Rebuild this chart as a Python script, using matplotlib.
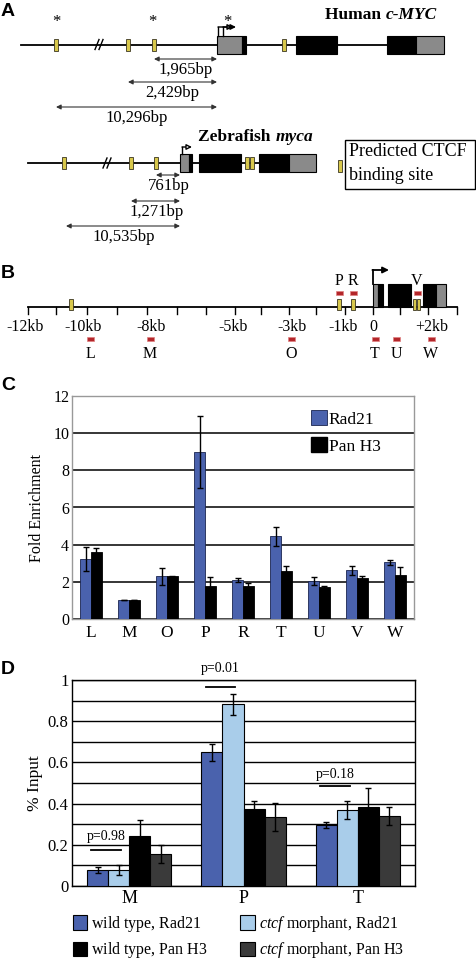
import matplotlib
matplotlib.use('Agg')
import matplotlib.pyplot as plt
from matplotlib.patches import Rectangle, Patch
import numpy as np

plt.rcParams['font.family'] = ['Liberation Serif', 'DejaVu Serif']
plt.rcParams['mathtext.fontset'] = 'custom'
plt.rcParams['mathtext.rm'] = 'Liberation Serif'
plt.rcParams['mathtext.it'] = 'Liberation Serif:italic'
plt.rcParams['mathtext.bf'] = 'Liberation Serif:bold'

# ---------------- Panel C data ----------------
c_categories = ['L', 'M', 'O', 'P', 'R', 'T', 'U', 'V', 'W']
c_rad21 = [3.22, 1.0, 2.29, 9.0, 2.11, 4.44, 2.03, 2.62, 3.05]
c_rad21_err = [0.65, 0.0, 0.47, 1.93, 0.10, 0.52, 0.21, 0.25, 0.12]
c_panh3 = [3.58, 1.0, 2.29, 1.79, 1.76, 2.56, 1.74, 2.19, 2.35]
c_panh3_err = [0.22, 0.0, 0.05, 0.47, 0.20, 0.27, 0.05, 0.12, 0.43]
c_yticks = [0, 2, 4, 6, 8, 10, 12]

# ---------------- Panel D data ----------------
d_categories = ['M', 'P', 'T']
d_wt_rad21 = [0.076, 0.649, 0.296]
d_wt_rad21_err = [0.015, 0.040, 0.016]
d_ct_rad21 = [0.079, 0.882, 0.369]
d_ct_rad21_err = [0.025, 0.050, 0.045]
d_wt_h3 = [0.243, 0.374, 0.383]
d_wt_h3_err = [0.075, 0.040, 0.094]
d_ct_h3 = [0.157, 0.335, 0.340]
d_ct_h3_err = [0.043, 0.070, 0.042]
d_pvalues = ['p=0.98', 'p=0.01', 'p=0.18']
d_pline_y = [0.176, 0.964, 0.485]
d_ptext_y = [0.24, 1.055, 0.54]
d_ytick_labels = ['0', '0.2', '0.4', '0.6', '0.8', '1']

# ---------------- Panel A schematic ----------------
human_ctcf_x = [56, 128, 154, 284]
human_star_x = [56, 152, 227]
human_exons = [(217, 242, 'gray'), (242, 246, 'black'), (296, 337, 'black'),
               (387, 416, 'black'), (416, 444, 'gray')]
human_dist_labels = ['1,965bp', '2,429bp', '10,296bp']
human_dist_from = [154, 128, 56]
human_dist_y = [59, 82, 107]

zf_ctcf_x = [64, 131, 156, 247, 252]
zf_exons = [(180, 189, 'gray'), (189, 192, 'black'), (199, 241, 'black'),
            (259, 289, 'black'), (289, 316, 'gray')]
zf_dist_labels = ['761bp', '1,271bp', '10,535bp']
zf_dist_from = [156, 131, 66]
zf_dist_y = [175, 201, 226]

# ---------------- Panel B schematic ----------------
b_tick_px = [28, 56, 87, 117, 147, 177, 206, 235, 261, 289, 316, 345, 373, 400, 428, 457]
b_tick_labels = ['-12kb', '-10kb', '-8kb', '-5kb', '-3kb', '-1kb', '0', '+2kb']
b_label_px = [25, 83, 151, 233, 292, 343, 373, 432]
b_ctcf_x = [71, 339, 353, 414.5, 418.5]
b_top_probes = ['P', 'R', 'V']
b_top_probe_x = [339, 353, 417]
b_bottom_probes = ['L', 'M', 'O', 'T', 'U', 'W']
b_bottom_probe_x = [90, 150, 291, 375, 396, 431]
b_exons = [(373, 378, 'gray'), (378, 383, 'black'), (388, 411, 'black'),
           (423, 436, 'black'), (436, 446, 'gray')]

BLUE = '#4a62ad'
LBLUE = '#a9cdea'
DGRAY = '#3a3a3a'
GRAYEX = '#8a8a8a'
YEL = '#d8c84c'
RED = '#b3262a'

fig = plt.figure(figsize=(4.76, 9.59), dpi=100)
ax0 = fig.add_axes([0, 0, 1, 1])
ax0.set_xlim(0, 476)
ax0.set_ylim(959, 0)
ax0.axis('off')


def exon(x0, x1, yc, h, color):
    fc = GRAYEX if color == 'gray' else 'black'
    ax0.add_patch(Rectangle((x0, yc - h / 2), x1 - x0, h, fc=fc, ec='black', lw=0.8, zorder=3))


def ctcf(x, yc, h=12, w=4):
    ax0.add_patch(Rectangle((x - w / 2, yc - h / 2), w, h, fc=YEL, ec='#3a3520', lw=0.6, zorder=4))


def probe(x, yc):
    ax0.add_patch(Rectangle((x - 3.5, yc - 2), 7, 4, fc=RED, ec='#e08080', lw=0.5, zorder=4))


def dbl_arrow(x0, x1, y):
    ax0.annotate('', xy=(x0, y), xytext=(x1, y),
                 arrowprops=dict(arrowstyle='<|-|>', color='#333333', lw=0.8,
                                 mutation_scale=7, shrinkA=0, shrinkB=0))


def tss(x, ybot, ytop, xend, filled=True):
    ax0.plot([x, x], [ybot, ytop], color='black', lw=1.0, zorder=5)
    ax0.annotate('', xy=(xend, ytop), xytext=(x, ytop),
                 arrowprops=dict(arrowstyle='-|>', color='black', lw=1.0,
                                 fc='black' if filled else 'white',
                                 mutation_scale=8, shrinkA=0, shrinkB=0), zorder=5)


def breakmark(x, yc):
    for dx in (-2, 2):
        ax0.plot([x + dx - 2, x + dx + 2], [yc + 5, yc - 5], color='black', lw=1.0, zorder=5)


# Panel letters
for letter, y in [('A', 11), ('B', 273), ('C', 385), ('D', 670)]:
    ax0.text(1, y, letter, fontsize=14, fontweight='bold', family=['Liberation Sans', 'DejaVu Sans'],
             ha='left', va='center')

# ----- Human c-MYC -----
hy = 44.5
ax0.plot([21, 444], [hy, hy], color='black', lw=1.3, zorder=1)
breakmark(99, hy)
for x in human_ctcf_x:
    ctcf(x, hy)
for x in human_star_x:
    ax0.text(x, 22, '*', fontsize=12, ha='center', va='center')
for x0, x1, c in human_exons:
    exon(x0, x1, 45, 18, c)
tss(218, 36, 27, 233, filled=False)
tss(223, 36, 27, 236, filled=True)
for lab, xf, y in zip(human_dist_labels, human_dist_from, human_dist_y):
    dbl_arrow(xf, 217, y)
    ax0.text((xf + 217) / 2, y + 11, lab, fontsize=12, ha='center', va='center')
t1 = ax0.text(437, 15, 'c-MYC', fontsize=12.5, fontweight='bold', style='italic', ha='right', va='center')
ax0.annotate('Human ', xy=(0, 0.5), xycoords=t1, fontsize=12.5, fontweight='bold', ha='right', va='center')

# ----- Zebrafish myca -----
zy = 163
ax0.plot([28, 316], [zy, zy], color='black', lw=1.3, zorder=1)
breakmark(107, zy)
for x in zf_ctcf_x:
    ctcf(x, zy)
for x0, x1, c in zf_exons:
    exon(x0, x1, zy, 18, c)
tss(182, 154, 147, 192, filled=False)
for lab, xf, y in zip(zf_dist_labels, zf_dist_from, zf_dist_y):
    dbl_arrow(xf, 180, y)
    ax0.text((xf + 180) / 2 + 1, y + 11, lab, fontsize=12, ha='center', va='center')
t2 = ax0.text(313, 137, 'myca', fontsize=12.5, fontweight='bold', style='italic', ha='right', va='center')
ax0.annotate('Zebrafish ', xy=(0, 0.5), xycoords=t2, fontsize=12.5, fontweight='bold', ha='right', va='center')

# legend box
ax0.add_patch(Rectangle((345, 140), 130, 49, fc='white', ec='black', lw=1.0, zorder=2))
ctcf(340, 166)
ax0.text(349, 152, 'Predicted CTCF', fontsize=13, ha='left', va='center', zorder=3)
ax0.text(349, 176, 'binding site', fontsize=13, ha='left', va='center', zorder=3)

# ----- Panel B -----
by = 307
ax0.plot([28, 457], [by, by], color='black', lw=1.3, zorder=1)
for x in b_tick_px:
    ax0.plot([x, x], [by, by + 7], color='black', lw=1.0, zorder=1)
for lab, x in zip(b_tick_labels, b_label_px):
    ax0.text(x, 327, lab, fontsize=11.5, ha='center', va='center')
for x0, x1, c in b_exons:
    exon(x0, x1, (284 + by) / 2, by - 284, c)
for x in b_ctcf_x:
    ctcf(x, 304, h=11, w=3.6)
for lab, x in zip(b_top_probes, b_top_probe_x):
    probe(x, 293)
    ax0.text(x, 281, lab, fontsize=11.5, ha='center', va='center')
for lab, x in zip(b_bottom_probes, b_bottom_probe_x):
    probe(x, 339)
    ax0.text(x, 354, lab, fontsize=11.5, ha='center', va='center')
ax0.plot([373, 373], [284, 270], color='black', lw=1.3, zorder=5)
ax0.annotate('', xy=(389, 270), xytext=(372.4, 270),
             arrowprops=dict(arrowstyle='-|>', color='black', lw=1.3, mutation_scale=9,
                             shrinkA=0, shrinkB=0))

# ----- Panel C -----
W, H = 476, 959
axc = fig.add_axes([72 / W, 1 - 619 / H, 342 / W, 223 / H])
xc = np.arange(len(c_categories))
bw = 0.28
axc.bar(xc - bw / 2, c_rad21, bw, color=BLUE, edgecolor='#1a2550', lw=0.6, zorder=3, label='Rad21')
axc.bar(xc + bw / 2, c_panh3, bw, color='black', edgecolor='black', lw=0.6, zorder=3, label='Pan H3')
ek = dict(ecolor='black', elinewidth=1.0, capsize=2.2, capthick=1.0, ls='none', zorder=4)
axc.errorbar(xc - bw / 2, c_rad21, yerr=c_rad21_err, **ek)
axc.errorbar(xc + bw / 2, c_panh3, yerr=c_panh3_err, **ek)
axc.set_xlim(-0.5, len(c_categories) - 0.5)
axc.set_ylim(0, 12)
axc.set_yticks(c_yticks)
axc.set_yticklabels([str(v) for v in c_yticks], fontsize=11.5)
axc.set_xticks(xc)
axc.set_xticklabels(c_categories, fontsize=12.5)
axc.tick_params(length=0, pad=2)
axc.tick_params(axis='x', pad=4)
axc.yaxis.grid(True, color='black', lw=1.1, zorder=1)
axc.set_axisbelow(True)
for s in axc.spines.values():
    s.set_color('#999999')
    s.set_linewidth(1.0)
axc.set_ylabel('Fold Enrichment', fontsize=11.5, labelpad=6)
hc = [Patch(fc=BLUE, ec='#1a2550', lw=0.6), Patch(fc='black', ec='black')]
axc.legend(hc, ['Rad21', 'Pan H3'], loc='upper left', bbox_to_anchor=(0.7, 0.935),
           frameon=False, fontsize=12.5, handlelength=0.9, handleheight=0.95,
           handletextpad=0.1, labelspacing=0.55, borderpad=0, borderaxespad=0)

# ----- Panel D -----
axd = fig.add_axes([72 / W, 1 - 886 / H, 343 / W, 206 / H])
xd = np.arange(len(d_categories))
w = 0.184
series = [(d_wt_rad21, d_wt_rad21_err, BLUE),
          (d_ct_rad21, d_ct_rad21_err, LBLUE),
          (d_wt_h3, d_wt_h3_err, 'black'),
          (d_ct_h3, d_ct_h3_err, DGRAY)]
for i, (vals, errs, col) in enumerate(series):
    pos = xd + (i - 1.5) * w
    axd.bar(pos, vals, w, color=col, edgecolor='black', lw=0.8, zorder=3)
    axd.errorbar(pos, vals, yerr=errs, **ek)
for i, (lab, ly, ty) in enumerate(zip(d_pvalues, d_pline_y, d_ptext_y)):
    axd.plot([xd[i] - 0.33, xd[i] - 0.07], [ly, ly], color='black', lw=1.3, zorder=5, clip_on=False)
    axd.text(xd[i] - 0.2, ty, lab, fontsize=10, ha='center', va='center', clip_on=False)
axd.set_xlim(-0.5, len(d_categories) - 0.5)
axd.set_ylim(0, 1)
axd.set_yticks(np.arange(0, 1.01, 0.2))
axd.set_yticklabels(d_ytick_labels, fontsize=12)
axd.set_yticks(np.arange(0.1, 1.0, 0.2), minor=True)
axd.set_xticks(xd)
axd.set_xticklabels(d_categories, fontsize=13)
axd.tick_params(which='both', length=0, pad=2.5)
axd.tick_params(axis='x', pad=3)
axd.yaxis.grid(True, which='both', color='black', lw=1.0, zorder=1)
axd.set_axisbelow(True)
for s in axd.spines.values():
    s.set_color('black')
    s.set_linewidth(1.0)
axd.set_ylabel('% Input', fontsize=12.5, labelpad=3)

hd = [Patch(fc=BLUE, ec='black', lw=0.8), Patch(fc='black', ec='black', lw=0.8),
      Patch(fc=LBLUE, ec='black', lw=0.8), Patch(fc=DGRAY, ec='black', lw=0.8)]
ld = [r'wild type, Rad21$\,$', r'wild type, Pan H3$\,$',
      r'$\it{ctcf}$ morphant, Rad21', r'$\it{ctcf}$ morphant, Pan H3']
fig.legend(hd, ld, loc='upper left', bbox_to_anchor=(73 / W, 1 - 914 / H), ncol=2,
           frameon=False, fontsize=11.5, handlelength=0.9, handleheight=1.0,
           handletextpad=0.25, labelspacing=0.4, columnspacing=2.0,
           borderpad=0, borderaxespad=0)

fig.savefig('out.png', dpi=100)
